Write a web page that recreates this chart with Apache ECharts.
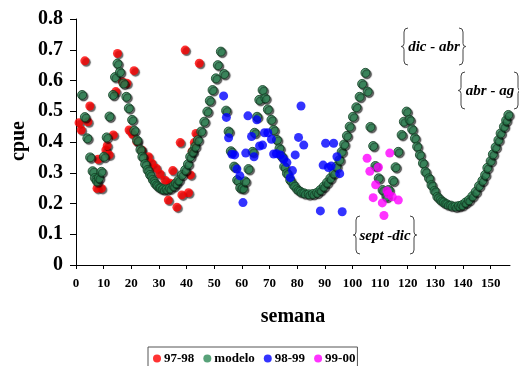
<!DOCTYPE html>
<html>
<head>
<meta charset="utf-8">
<script src="https://cdn.jsdelivr.net/npm/echarts@6/dist/echarts.min.js"></script>
<style>html,body{margin:0;padding:0;background:#fff}#c{width:519px;height:366px}</style>
</head>
<body>
<div id="c"></div>
<script>
// ---- data (week, cpue) ----
const xTicks = [0,10,20,30,40,50,60,70,80,90,100,110,120,130,140,150];
const yTicks = [0,0.1,0.2,0.3,0.4,0.5,0.6,0.7,0.8];
const seriesNames = ['97-98','modelo','98-99','99-00'];

const s9798 = [
[1.1,0.463],[1.9,0.439],[3.2,0.664],[4.3,0.466],[5.0,0.517],[7.6,0.249],[8.0,0.344],[9.2,0.249],
[10.8,0.374],[11.3,0.388],[12.0,0.358],[13.5,0.423],[14.4,0.564],[15.0,0.688],[16.8,0.596],[18.4,0.591],
[19.2,0.439],[20.4,0.426],[21.0,0.632],[22.0,0.401],[23.8,0.374],[26.2,0.352],[27.4,0.331],[29.0,0.315],
[30.4,0.296],[32.2,0.276],[33.4,0.211],[34.1,0.266],[35.0,0.307],[36.5,0.188],[37.7,0.398],[38.3,0.228],
[39.5,0.699],[40.7,0.235],[41.4,0.293],[42.0,0.370],[42.8,0.398],[43.4,0.428],[44.6,0.656]
];

const sModelo = [
[2.2,0.553],[3.2,0.481],[4.1,0.412],[5.1,0.350],[6.0,0.305],[6.8,0.283],[7.6,0.272],[8.3,0.283],[9.2,0.303],
[10.1,0.352],[11.1,0.415],[12.1,0.483],[13.4,0.553],[14.1,0.611],[15.0,0.655],[15.9,0.627],[17.2,0.590],
[18.2,0.547],[19.1,0.510],[20.3,0.472],[21.1,0.437],[22.1,0.405],[23.3,0.375],[24.0,0.352],[25.0,0.328],
[25.9,0.309],[26.8,0.293],[27.8,0.277],[28.7,0.264],[29.7,0.255],[30.7,0.249],[31.6,0.246],[32.8,0.246],
[34.0,0.249],[35.3,0.257],[36.2,0.266],[37.1,0.276],[38.3,0.293],[39.5,0.309],[40.5,0.328],[41.3,0.352],
[42.2,0.368],[43.1,0.385],[44.1,0.406],[45.3,0.434],[46.4,0.466],[47.5,0.499],[48.4,0.534],[49.4,0.569],
[50.6,0.607],[51.3,0.650],[52.4,0.694],[53.6,0.621],[54.3,0.502],[55.2,0.434],[56.0,0.370],[57.2,0.320],
[58.3,0.276],[59.4,0.251],[60.4,0.249],[61.2,0.272],[62.4,0.312],[63.9,0.368],[64.6,0.430],[65.5,0.482],
[66.3,0.537],[67.5,0.569],[68.5,0.542],[69.4,0.506],[70.7,0.472],[71.5,0.439],[72.7,0.407],[73.6,0.379],
[74.5,0.352],[75.3,0.320],[76.3,0.298],[77.5,0.276],[78.7,0.260],[80.0,0.246],[81.2,0.238],[82.6,0.233],
[84.2,0.230],[85.7,0.231],[87.2,0.235],[88.4,0.244],[89.6,0.255],[90.8,0.268],[92.0,0.282],[93.2,0.298],
[94.2,0.320],[95.3,0.341],[96.1,0.368],[97.0,0.392],[98.0,0.420],[99.0,0.450],[100.2,0.482],[101.4,0.513],
[102.6,0.547],[103.5,0.589],[104.7,0.625],[105.5,0.564],[106.5,0.449],[107.5,0.387],[108.3,0.322],
[109.5,0.282],[110.9,0.244],[112.3,0.222],[113.1,0.244],[114.7,0.274],[115.6,0.318],[116.6,0.368],
[117.8,0.423],[118.6,0.466],[119.6,0.499],[120.7,0.472],[121.6,0.441],[122.6,0.412],[123.4,0.385],
[124.4,0.358],[125.5,0.331],[126.4,0.303],[127.7,0.282],[128.6,0.260],[129.7,0.241],[130.7,0.222],
[131.9,0.211],[133.1,0.203],[134.3,0.197],[135.7,0.193],[137.3,0.190],[138.5,0.192],[139.7,0.195],
[140.9,0.203],[142.1,0.211],[143.4,0.224],[144.6,0.238],[145.8,0.257],[147.0,0.274],[148.0,0.293],
[148.8,0.316],[150.0,0.338],[150.8,0.360],[151.8,0.383],[152.8,0.406],[153.6,0.428],[154.8,0.450],
[155.6,0.470],[156.4,0.488]
];

const s9899 = [
[53.4,0.550],[54.4,0.480],[55.2,0.414],[56.4,0.360],[57.4,0.358],[58.2,0.312],[59.3,0.290],[60.4,0.203],
[61.4,0.364],[62.2,0.485],[63.5,0.418],[64.4,0.352],[65.4,0.472],[66.4,0.387],[67.5,0.390],[68.2,0.430],
[69.4,0.430],[70.7,0.409],[71.5,0.361],[72.5,0.362],[73.9,0.358],[75.1,0.344],[76.3,0.333],[77.5,0.284],
[78.3,0.307],[79.3,0.358],[80.5,0.415],[81.4,0.517],[82.4,0.390],[88.4,0.176],[89.4,0.325],[90.3,0.396],
[91.3,0.317],[92.3,0.322],[93.2,0.396],[94.4,0.352],[95.4,0.297],[96.3,0.173]
];

const s9900 = [
[105.3,0.347],[106.3,0.305],[107.5,0.219],[108.4,0.261],[109.4,0.318],[110.8,0.202],[111.4,0.161],
[112.5,0.241],[113.0,0.231],[113.5,0.364],[114.4,0.222],[116.6,0.211]
];

// ---- chart ----
const FONT = '"Liberation Serif", "Times New Roman", serif';
const chart = echarts.init(document.getElementById('c'), null, {renderer: 'canvas'});

function brace(x, top, bottom, dir) {
  // dir = 1: left brace "{" (tip points left); dir = -1: right brace "}"
  const mid = (top + bottom) / 2, h = 4 * dir;
  const ls = {stroke: '#444', lineWidth: 1, fill: null};
  return [
    {type: 'bezierCurve', shape: {x1: x + h, y1: top, x2: x, y2: top + 4, cpx1: x, cpy1: top}, style: ls},
    {type: 'line', shape: {x1: x, y1: top + 4, x2: x, y2: mid - 3}, style: ls},
    {type: 'bezierCurve', shape: {x1: x, y1: mid - 3, x2: x - h * 0.7, y2: mid, cpx1: x, cpy1: mid}, style: ls},
    {type: 'bezierCurve', shape: {x1: x - h * 0.7, y1: mid, x2: x, y2: mid + 3, cpx1: x, cpy1: mid}, style: ls},
    {type: 'line', shape: {x1: x, y1: mid + 3, x2: x, y2: bottom - 4}, style: ls},
    {type: 'bezierCurve', shape: {x1: x, y1: bottom - 4, x2: x + h, y2: bottom, cpx1: x, cpy1: bottom}, style: ls}
  ];
}
function note(txt, cx, cy) {
  return {type: 'text', x: cx, y: cy, style: {text: txt, font: 'italic bold 15px ' + FONT, fill: '#000', align: 'center', verticalAlign: 'middle'}};
}

const shadow = {shadowBlur: 1, shadowOffsetX: 1.5, shadowOffsetY: 1.5, shadowColor: 'rgba(0,0,0,0.75)'};

chart.setOption({
  animation: false,
  backgroundColor: '#fff',
  grid: {left: 76, right: 9, top: 19, bottom: 101, containLabel: false},
  xAxis: {
    type: 'value', min: 0, max: 157, interval: 10,
    splitLine: {show: false},
    axisLine: {onZero: false, lineStyle: {color: '#000', width: 1}},
    axisTick: {show: true, length: 4, inside: false, lineStyle: {color: '#000'}, customValues: xTicks},
    axisLabel: {customValues: xTicks, margin: 12, color: '#000', fontFamily: FONT, fontWeight: 'bold', fontSize: 13}
  },
  yAxis: {
    type: 'value', min: 0, max: 0.8, interval: 0.1,
    splitLine: {show: false},
    axisLine: {show: true, onZero: false, lineStyle: {color: '#000', width: 1}},
    axisTick: {show: true, length: 6, inside: false, lineStyle: {color: '#000'}, customValues: yTicks},
    axisLabel: {customValues: yTicks, margin: 13, color: '#000', fontFamily: FONT, fontWeight: 'bold', fontSize: 20,
      formatter: v => (v === 0 ? '0' : v.toFixed(1))}
  },
  legend: {
    data: seriesNames,
    left: 148, top: 347,
    padding: [5, 2, 6, 5],
    itemGap: 9, itemWidth: 8, itemHeight: 8,
    borderColor: '#555', borderWidth: 1,
    icon: 'circle',
    itemStyle: {shadowBlur: 0, shadowOffsetX: 0, shadowOffsetY: 0, borderWidth: 0},
    textStyle: {color: '#000', fontFamily: FONT, fontWeight: 'bold', fontSize: 13, padding: [0, 0, 0, -2]}
  },
  series: [
    {name: seriesNames[0], type: 'scatter', data: s9798, symbolSize: 9,
     itemStyle: Object.assign({color: '#ff0000'}, shadow)},
    {name: seriesNames[1], type: 'scatter', data: sModelo, symbolSize: 9,
     itemStyle: Object.assign({color: '#2e8b57', borderColor: '#123d22', borderWidth: 1}, shadow)},
    {name: seriesNames[2], type: 'scatter', data: s9899, symbolSize: 9,
     itemStyle: {color: '#0000ff'}},
    {name: seriesNames[3], type: 'scatter', data: s9900, symbolSize: 9,
     itemStyle: {color: '#ff00ff'}}
  ],
  graphic: [].concat(
    brace(404, 28, 65, 1), brace(463, 28, 65, -1), note('dic - abr', 434, 47),
    brace(461, 72, 109, 1), brace(518, 72, 109, -1), note('abr - ag', 490, 91),
    brace(356, 216, 254, 1), brace(414, 216, 254, -1), note('sept -dic', 385, 236),
    [
      {type: 'text', x: 293, y: 317, style: {text: 'semana', font: 'bold 20px ' + FONT, fill: '#000', align: 'center', verticalAlign: 'middle'}},
      {type: 'text', x: 19, y: 141, rotation: Math.PI / 2, style: {text: 'cpue', font: 'bold 20px ' + FONT, fill: '#000', align: 'center', verticalAlign: 'middle'}}
    ]
  )
});
</script>
</body>
</html>
